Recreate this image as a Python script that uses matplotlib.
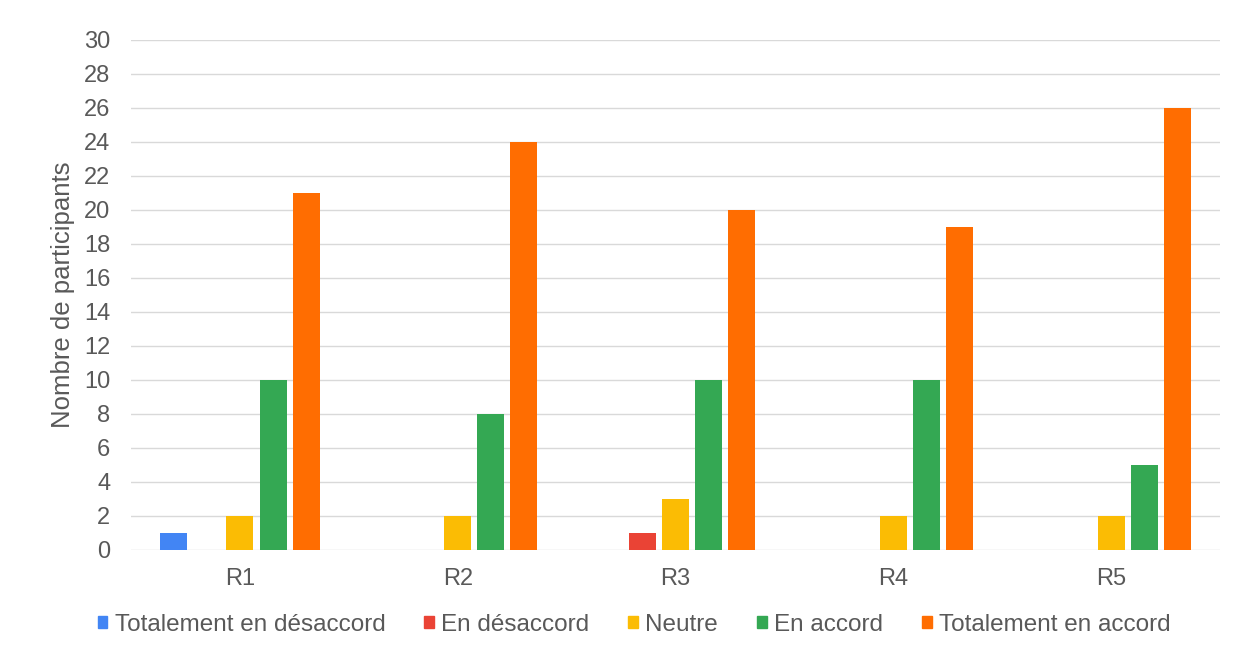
import numpy as np
import matplotlib.pyplot as plt
from matplotlib.patches import Patch

plt.rcParams['font.family'] = ['Liberation Sans', 'DejaVu Sans']

# Données
categories = ['R1', 'R2', 'R3', 'R4', 'R5']
series = ['Totalement en désaccord', 'En désaccord', 'Neutre', 'En accord', 'Totalement en accord']
tot_desaccord = [1, 0, 0, 0, 0]
desaccord = [0, 0, 1, 0, 0]
neutre = [2, 2, 3, 2, 2]
accord = [10, 8, 10, 10, 5]
tot_accord = [21, 24, 20, 19, 26]
colors = ['#4285f4', '#ea4335', '#fbbc04', '#34a853', '#ff6d01']

values = [tot_desaccord, desaccord, neutre, accord, tot_accord]

fig = plt.figure(figsize=(12.44, 6.59), dpi=100)
ax = fig.add_axes([131 / 1244, 1 - 550 / 659, (1220 - 131) / 1244, 510 / 659])

x = np.arange(len(categories))
pitch = 0.152
width = 0.124
for k, (vals, col) in enumerate(zip(values, colors)):
    ax.bar(x + (k - 2) * pitch, vals, width, color=col, zorder=3)

ax.set_xlim(-0.5, 4.5)
ax.set_ylim(0, 30)
ax.set_yticks(range(0, 31, 2))
ax.set_xticks(x)
ax.set_xticklabels(categories)
ax.grid(axis='y', color='#d9d9d9', linewidth=1, zorder=0)
for s in ax.spines.values():
    s.set_visible(False)
ax.tick_params(length=0, labelsize=17, colors='#595959')
ax.tick_params(axis='y', pad=15)
ax.tick_params(axis='x', pad=13)
ax.set_ylabel('Nombre de participants', fontsize=18.5, color='#595959', labelpad=6)

handles = [Patch(color=c, label=s) for c, s in zip(colors, series)]
fig.legend(handles=handles, loc='center', bbox_to_anchor=(634 / 1244, 1 - 625 / 659),
           ncol=5, frameon=False, fontsize=17.5, handlelength=0.4, handleheight=0.4,
           handletextpad=0.3, columnspacing=1.6, labelcolor='#595959')

fig.savefig('out.png', dpi=100)
